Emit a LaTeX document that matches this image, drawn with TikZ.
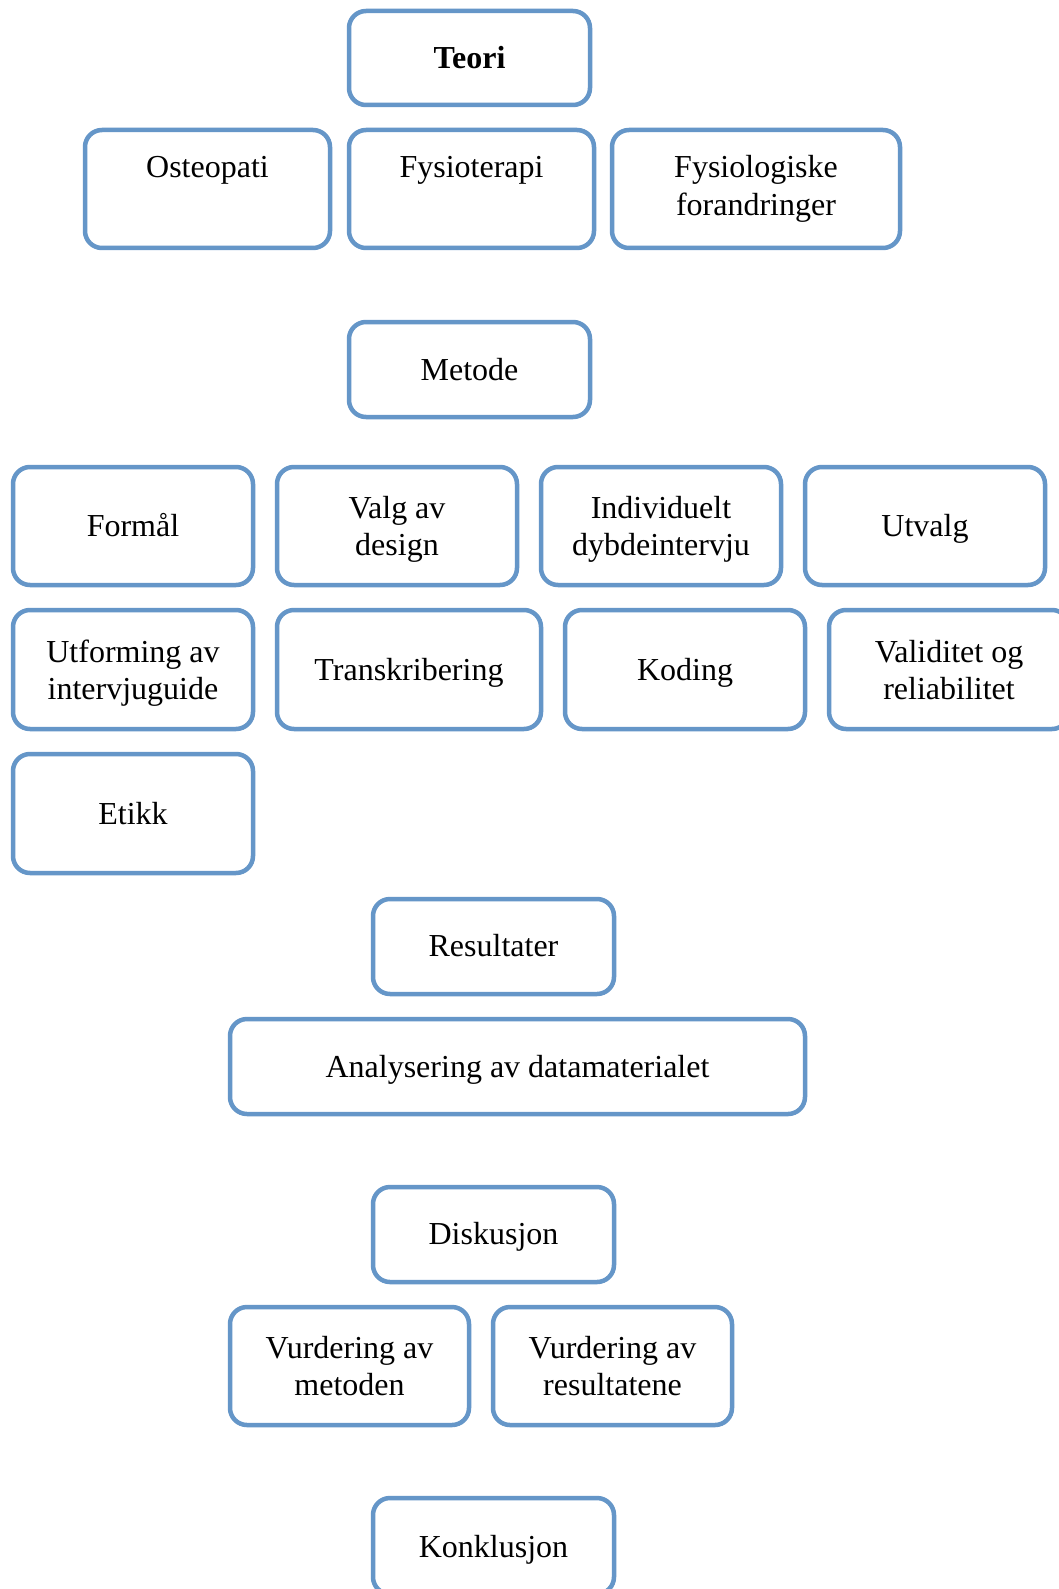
\documentclass[tikz,border=0pt]{standalone}
\usepackage{fontspec}
\setmainfont{Liberation Serif}
\definecolor{boxblue}{RGB}{101,150,200}
\newcommand\mybox[7]{%
  \node[box, minimum width={#4-#2}, minimum height={#5-#3}] (#1) at ({(#2+#4)/2},{(#3+#5)/2}) {};
  \node[lbl] (#1-t) at ({(#2+#4)/2},#6) {#7};}
\begin{document}
\begin{tikzpicture}[x=1pt,y=-1pt,
  box/.style={draw=boxblue, line width=4.5pt, rounded corners=17pt, fill=white, inner sep=0pt},
  lbl/.style={font=\fontsize{32}{37.5}\selectfont, align=center, inner sep=0pt, text height=0.68em, text depth=0.22em}]
\clip (0,0) rectangle (1059,1589);
\fill[white] (0,0) rectangle (1059,1589);
\mybox{teori}{349}{11}{590}{105}{66}{\textbf{Teori}}
\mybox{osteo}{85}{130}{330}{248}{175}{Osteopati}
\mybox{fysio}{349}{130}{594}{248}{175}{Fysioterapi}
\mybox{fysiol}{612}{130}{900}{248}{213}{Fysiologiske\\forandringer}
\mybox{metode}{349}{322}{590}{417}{378}{Metode}
\mybox{formal}{13}{467}{253}{585}{534}{Formål}
\mybox{valg}{277}{467}{517}{585}{553.5}{Valg av\\design}
\mybox{indiv}{541}{467}{781}{585}{553.5}{Individuelt\\dybdeintervju}
\mybox{utvalg}{805}{467}{1045}{585}{534}{Utvalg}
\mybox{utform}{13}{610}{253}{729}{697.5}{Utforming av\\intervjuguide}
\mybox{transk}{277}{610}{541}{729}{678}{Transkribering}
\mybox{koding}{565}{610}{805}{729}{678}{Koding}
\mybox{valid}{829}{610}{1069}{729}{697.5}{Validitet og\\reliabilitet}
\mybox{etikk}{13}{754}{253}{873}{822}{Etikk}
\mybox{result}{373}{899}{614}{994}{954}{Resultater}
\mybox{analys}{230}{1019}{805}{1114}{1075}{Analysering av datamaterialet}
\mybox{disk}{373}{1187}{614}{1282}{1242}{Diskusjon}
\mybox{vurdm}{230}{1307}{469}{1425}{1393.5}{Vurdering av\\metoden}
\mybox{vurdr}{493}{1307}{732}{1425}{1393.5}{Vurdering av\\resultatene}
\mybox{konkl}{373}{1498}{614}{1594}{1555}{Konklusjon}
\end{tikzpicture}
\end{document}
